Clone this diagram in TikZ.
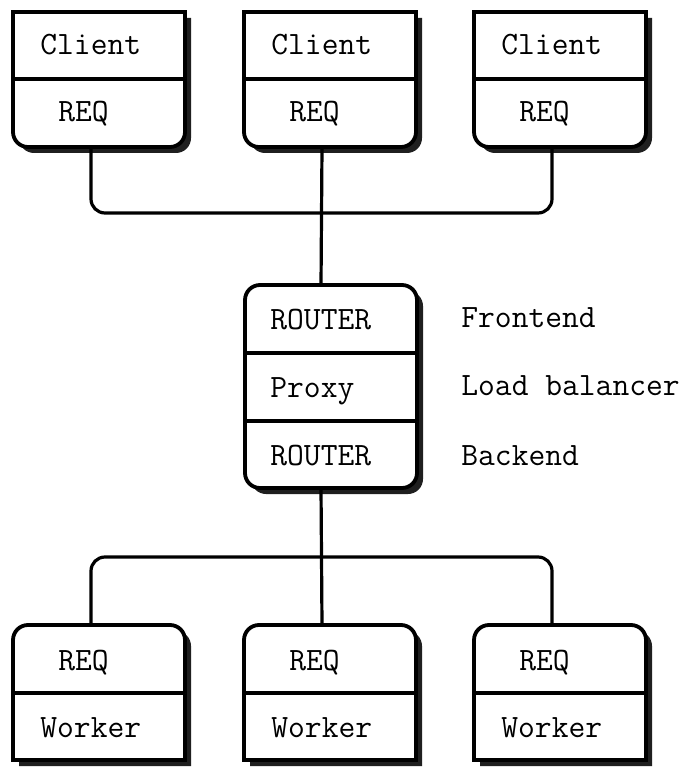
\documentclass[tikz,border=0pt]{standalone}
\usetikzlibrary{calc}
\begin{document}
\begin{tikzpicture}[x=0.5pt,y=-0.5pt,
    box/.style={draw=black, line width=1.9pt, fill=white},
    boxshadow/.style={fill=black!88, draw=none, shift={(6,6)}},
    wire/.style={line width=1.6pt, rounded corners=7pt},
    lbl/.style={anchor=base west, inner sep=0pt, font=\fontsize{16.3}{19}\selectfont\ttfamily}]
    \useasboundingbox (0,0) rectangle (685,769);

    % Clients (square top, rounded bottom)
    \foreach \x/\i in {0/1,231/2,461/3}{
      \begin{scope}[shift={(\x,0)}]
        \fill[boxshadow] (13,79) -- (13,12) -- (185,12) -- (185,79) [rounded corners=7.5pt] -- (185,147) -- (13,147) -- cycle;
        \draw[box] (13,79) -- (13,12) -- (185,12) -- (185,79) [rounded corners=7.5pt] -- (185,147) -- (13,147) -- cycle;
        \draw[box] (13,79) -- (185,79);
        \node[lbl] (client\i) at (40,55) {Client};
        \node[lbl] (creq\i) at (58,122) {REQ};
        \coordinate (c\i) at (91,147);
      \end{scope}
    }

    % Proxy
    \fill[boxshadow, rounded corners=7.5pt] (245,285) rectangle (417,488);
    \draw[box, rounded corners=7.5pt] (245,285) rectangle (417,488);
    \draw[box] (245,353) -- (417,353);
    \draw[box] (245,421) -- (417,421);
    \node[lbl] (frontend) at (270,329) {ROUTER};
    \node[lbl] (proxy) at (270,397) {Proxy};
    \node[lbl] (backend) at (270,465) {ROUTER};
    \coordinate (rtop) at (321,285);
    \coordinate (rbot) at (321,488);

    % Side labels
    \node[lbl] (frontlbl) at (461,328) {Frontend};
    \node[lbl] (balancelbl) at (461,395) {Load balancer};
    \node[lbl] (backlbl) at (461,465) {Backend};

    % Workers (rounded top, square bottom)
    \foreach \x/\i in {0/1,231/2,461/3}{
      \begin{scope}[shift={(\x,0)}]
        \fill[boxshadow] (13,693) -- (13,760) -- (185,760) -- (185,693) [rounded corners=7.5pt] -- (185,625) -- (13,625) -- cycle;
        \draw[box] (13,693) -- (13,760) -- (185,760) -- (185,693) [rounded corners=7.5pt] -- (185,625) -- (13,625) -- cycle;
        \draw[box] (13,693) -- (185,693);
        \node[lbl] (wreq\i) at (58,670) {REQ};
        \node[lbl] (worker\i) at (40,737) {Worker};
        \coordinate (w\i) at (91,625);
      \end{scope}
    }

    % Connections
    \coordinate (topbus) at (321,213);
    \coordinate (lowbus) at (321,557);
    \draw[wire] (c1) |- (topbus) -| (c3);
    \draw[wire] (c2) -- (rtop);
    \draw[wire] (rbot) -- (w2);
    \draw[wire] (w1) |- (lowbus) -| (w3);
\end{tikzpicture}
\end{document}
